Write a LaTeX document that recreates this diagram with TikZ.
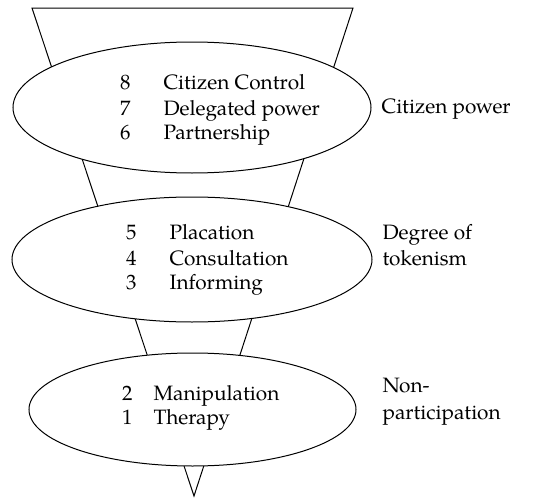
\documentclass[tikz,border=0pt]{standalone}
\usepackage{fontspec}
\setmainfont{TeX Gyre Pagella}
\usetikzlibrary{shapes.geometric}
\begin{document}
\begin{tikzpicture}[x=0.5pt,y=-0.5pt,line width=0.5pt,
  oval/.style={ellipse,draw,fill=white,inner sep=0pt},
  lbl/.style={anchor=base west,inner sep=0pt,font=\fontsize{10.4}{12.5}\selectfont},
  num/.style={anchor=base east,inner sep=0pt,font=\fontsize{10.4}{12.5}\selectfont}]
\useasboundingbox (0,0) rectangle (536,498);
% funnel
\coordinate (tl) at (32,8);
\coordinate (tr) at (353,8);
\coordinate (ap) at (194,496);
\draw (ap) -- (tl) -- (tr) -- cycle;
% ellipses
\node[oval,minimum width=179pt,minimum height=65.5pt] (e1) at (192,107.5) {};
\node[oval,minimum width=180pt,minimum height=62.5pt] (e2) at (192,259.5) {};
\node[oval,minimum width=163.5pt,minimum height=56.5pt] (e3) at (192.5,409.5) {};
% ellipse 1
\node[num] (n8) at (131,90) {8};
\node[lbl] (t8) at (163,90) {Citizen Control};
\node[num] (n7) at (131,115) {7};
\node[lbl] (t7) at (163,115) {Delegated power};
\node[num] (n6) at (131,139) {6};
\node[lbl] (t6) at (163,139) {Partnership};
% ellipse 2
\node[num] (n5) at (137,239) {5};
\node[lbl] (t5) at (169,239) {Placation};
\node[num] (n4) at (137,265) {4};
\node[lbl] (t4) at (169,265) {Consultation};
\node[num] (n3) at (137,289) {3};
\node[lbl] (t3) at (169,289) {Informing};
% ellipse 3
\node[num] (n2) at (133,400) {2};
\node[lbl] (t2) at (153,400) {Manipulation};
\node[num] (n1) at (133,424) {1};
\node[lbl] (t1) at (153,424) {Therapy};
% side labels
\node[lbl] (s1) at (381,113) {Citizen power};
\node[lbl] (s2a) at (382,239) {Degree of};
\node[lbl] (s2b) at (382,265) {tokenism};
\node[lbl] (s3a) at (382,392) {Non-};
\node[lbl] (s3b) at (382,419) {participation};
\end{tikzpicture}
\end{document}
